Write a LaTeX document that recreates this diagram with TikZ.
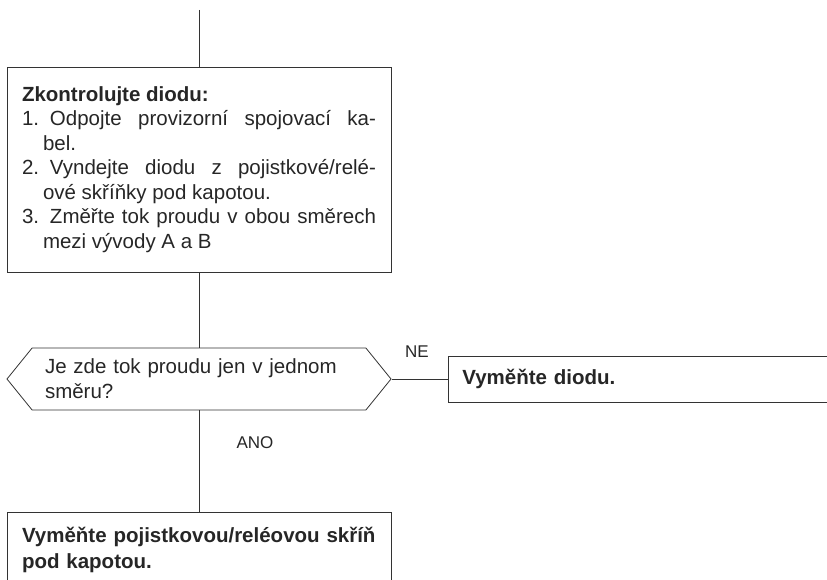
\documentclass[tikz,border=0pt]{standalone}
\usepackage{fontspec}
\setmainfont{Liberation Sans}
\usetikzlibrary{positioning,shapes.symbols}

\newcommand{\bod}[2]{\par\noindent\hangindent=21pt\hangafter=1 \hbox to 28pt{#1\hfil}#2}

\begin{document}
\begin{tikzpicture}[x=1pt,y=-1pt,
  spoj/.style={draw=black!80,line width=0.8pt},
  box/.style={spoj,rectangle,inner xsep=15pt,inner ysep=0pt,text width=354pt,font=\fontsize{20.5}{24.5}\selectfont,text=black!85},
  hexa/.style={spoj,signal,signal to=west and east,signal pointer angle=102,minimum width=384pt,minimum height=62pt,inner sep=0pt,text width=308pt,align=left,font=\fontsize{20.5}{25}\selectfont,text=black!85},
  popis/.style={font=\fontsize{17}{20}\selectfont,text=black!85,inner sep=0pt}]
\useasboundingbox (0,0) rectangle (827,580);
\clip (0,0) rectangle (827,580);
\coordinate (vrch) at (199,10);
\node[box,align=justify,minimum height=205pt] (kontrola) at (199,169.5) {%
  \textbf{Zkontrolujte diodu:}
  \bod{1.}{Odpojte provizorní spojovací ka-\linebreak bel.}
  \bod{2.}{Vyndejte diodu z pojistkové/relé-\linebreak ové skříňky pod kapotou.}
  \bod{3.}{Změřte tok proudu v obou směrech\linebreak mezi vývody A a B}\par};
\node[hexa] (otazka) at (199,379) {Je zde tok proudu jen v jednom\\směru?};
\node[box,anchor=west,text width=412pt,inner xsep=14pt,minimum height=46pt,align=left,font=\fontsize{20.5}{24.5}\selectfont\bfseries] (dioda) at (448,379) {Vyměňte diodu.};
\node[box,anchor=north,minimum height=76pt,align=left,font=\fontsize{20.5}{26}\selectfont\bfseries] (skrin) at (199,512) {Vyměňte pojistkovou/reléovou skříň\\pod kapotou.};
\node[popis] (ne) at (417,352) {NE};
\node[popis] (ano) at (255,443) {ANO};
\draw[spoj] (vrch) -- (kontrola.north);
\draw[spoj] (kontrola.south) -- (otazka.north);
\draw[spoj] (otazka.east) -- (dioda.west);
\draw[spoj] (otazka.south) -- (skrin.north);
\end{tikzpicture}
\end{document}
